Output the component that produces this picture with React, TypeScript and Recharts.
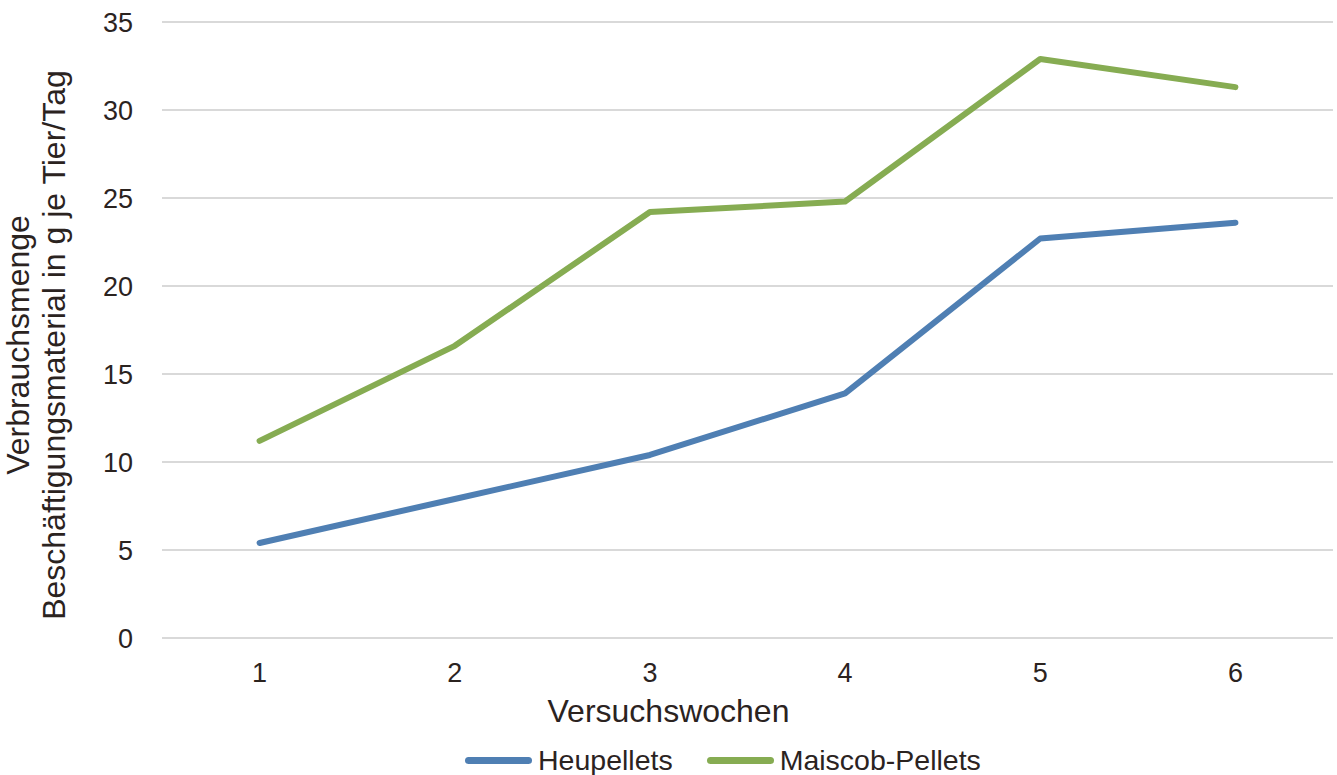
import { LineChart, Line, XAxis, YAxis, CartesianGrid, Legend } from "recharts";

const weeks = ["1", "2", "3", "4", "5", "6"];
const heupellets = [5.4, 7.9, 10.4, 13.9, 22.7, 23.6];
const maiscobPellets = [11.2, 16.6, 24.2, 24.8, 32.9, 31.3];
const yTicks = [0, 5, 10, 15, 20, 25, 30, 35];

const data = weeks.map((week, i) => ({
  week,
  heu: heupellets[i],
  mais: maiscobPellets[i],
}));

const FONT = "'Liberation Sans', Arial, sans-serif";
const TEXT = "#2B231F";
const BLUE = "#4F7FB3";
const GREEN = "#86AC52";

function YTitle() {
  return (
    <g>
      <text
        x={29}
        y={345}
        transform="rotate(-90, 29, 345)"
        textAnchor="middle"
        fontFamily={FONT}
        fontSize={32}
        fill={TEXT}
      >
        Verbrauchsmenge
      </text>
      <text
        x={65}
        y={345}
        transform="rotate(-90, 65, 345)"
        textAnchor="middle"
        fontFamily={FONT}
        fontSize={32}
        fill={TEXT}
      >
        Beschäftigungsmaterial in g je Tier/Tag
      </text>
    </g>
  );
}

function XTitle() {
  return (
    <text
      x={668.5}
      y={722}
      textAnchor="middle"
      fontFamily={FONT}
      fontSize={32}
      fill={TEXT}
    >
      Versuchswochen
    </text>
  );
}

function LegendContent({ payload }: any) {
  return (
    <div style={{ display: "flex", alignItems: "center", height: 32 }}>
      {(payload || []).map((entry: any) => (
        <div
          key={entry.value}
          style={{ display: "flex", alignItems: "center", marginRight: 34 }}
        >
          <span
            style={{
              display: "inline-block",
              width: 67,
              height: 7,
              borderRadius: 4,
              background: entry.color,
              marginRight: 6,
            }}
          />
          <span
            style={{
              fontFamily: FONT,
              fontSize: 28.5,
              lineHeight: "32px",
              color: TEXT,
              whiteSpace: "nowrap",
            }}
          >
            {entry.value}
          </span>
        </div>
      ))}
    </div>
  );
}

export default function App() {
  return (
    <div style={{ position: "absolute", left: 0, top: 0, background: "#fff" }}>
      <LineChart
        width={1337}
        height={775}
        data={data}
        margin={{ top: 22, right: 4, bottom: 77, left: 0 }}
      >
        <CartesianGrid vertical={false} stroke="#D9D9D9" strokeWidth={2} />
        <XAxis
          dataKey="week"
          axisLine={false}
          tickLine={false}
          tickSize={0}
          tickMargin={25}
          height={60}
          padding={{ left: 97.6, right: 97.6 }}
          tick={{ fontFamily: FONT, fontSize: 27, fill: TEXT }}
          label={{ content: () => <XTitle /> }}
        />
        <YAxis
          domain={[0, 35]}
          ticks={yTicks}
          width={162}
          axisLine={false}
          tickLine={false}
          tickSize={0}
          tickMargin={29}
          tick={{ fontFamily: FONT, fontSize: 27, fill: TEXT }}
          label={{ content: () => <YTitle /> }}
        />
        <Legend
          layout="horizontal"
          verticalAlign="middle"
          align="center"
          content={<LegendContent />}
          wrapperStyle={{ position: "absolute", left: 465, top: 744, width: "auto" }}
        />
        <Line
          type="linear"
          dataKey="heu"
          name="Heupellets"
          stroke={BLUE}
          strokeWidth={6}
          strokeLinecap="round"
          strokeLinejoin="round"
          dot={false}
          activeDot={false}
          isAnimationActive={false}
        />
        <Line
          type="linear"
          dataKey="mais"
          name="Maiscob-Pellets"
          stroke={GREEN}
          strokeWidth={6}
          strokeLinecap="round"
          strokeLinejoin="round"
          dot={false}
          activeDot={false}
          isAnimationActive={false}
        />
      </LineChart>
    </div>
  );
}
